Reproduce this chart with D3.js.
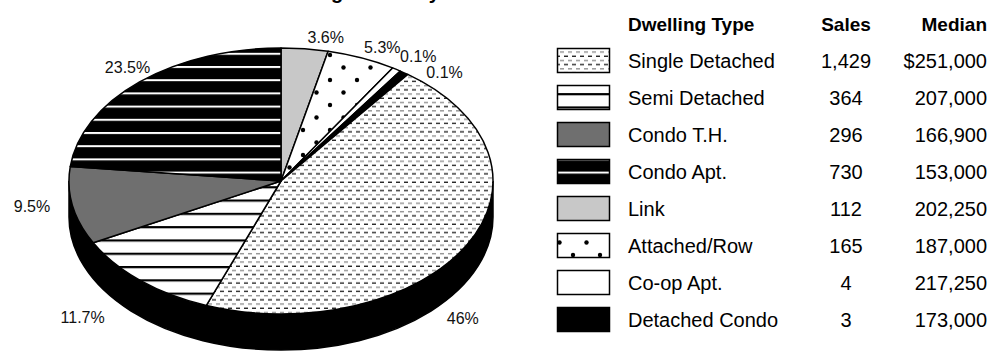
<!DOCTYPE html>
<html>
<head>
<meta charset="utf-8">
<script src="https://cdn.jsdelivr.net/npm/d3@7"></script>
<style>
  html, body { margin: 0; padding: 0; background: #fff; }
  svg { display: block; font-family: "Liberation Sans", Arial, sans-serif; }
</style>
</head>
<body>
<div id="chart"></div>
<script>
// data
const titleText = 'Dwelling Summary';
const headers = ['Dwelling Type', 'Sales', 'Median'];
const categories = ['Single Detached', 'Semi Detached', 'Condo T.H.', 'Condo Apt.',
  'Link', 'Attached/Row', 'Co-op Apt.', 'Detached Condo'];
const sales = [1429, 364, 296, 730, 112, 165, 4, 3];
const medians = ['$251,000', '207,000', '166,900', '153,000', '202,250', '187,000', '217,250', '173,000'];
const percentLabels = ['46%', '11.7%', '9.5%', '23.5%', '3.6%', '5.3%', '0.1%', '0.1%'];
// slices go clockwise from 12 o'clock starting with Link
const pieOrder = [4, 5, 6, 7, 0, 1, 2, 3];

const width = 992, height = 351;
const pie3d = { cx: 281, cy: 181, rx: 212, ry: 133, depth: 36 };
const fills = ['url(#pSingle)', 'url(#pSemi)', '#6f6f6f', 'url(#pApt)',
  '#c8c8c8', 'url(#pDots)', '#ffffff', '#000000'];
// fine placement of the percent labels (dx, dy from the computed spot)
const labelNudge = [[-20, 31], [-46, -10], [-23, -38], [0, -4], [19, 2], [14, 2], [12, -1], [30, 11]];

const svg = d3.select('#chart').append('svg')
  .attr('width', width)
  .attr('height', height);

// patterns
const defs = svg.append('defs');
const pSingle = defs.append('pattern').attr('id', 'pSingle')
  .attr('patternUnits', 'userSpaceOnUse').attr('width', 8).attr('height', 8.4);
pSingle.append('rect').attr('width', 8).attr('height', 8.4).attr('fill', '#fff');
pSingle.append('rect').attr('x', 0).attr('y', 1).attr('width', 4).attr('height', 1.3).attr('fill', '#8a8a8a');
pSingle.append('rect').attr('x', 4).attr('y', 5.2).attr('width', 4).attr('height', 1.3).attr('fill', '#1a1a1a');

const pSemi = defs.append('pattern').attr('id', 'pSemi')
  .attr('patternUnits', 'userSpaceOnUse').attr('width', 10).attr('height', 13.3);
pSemi.append('rect').attr('width', 10).attr('height', 13.3).attr('fill', '#fff');
pSemi.append('rect').attr('y', 0).attr('width', 10).attr('height', 2.2).attr('fill', '#000');

const pApt = defs.append('pattern').attr('id', 'pApt')
  .attr('patternUnits', 'userSpaceOnUse').attr('width', 10).attr('height', 13.2);
pApt.append('rect').attr('width', 10).attr('height', 13.2).attr('fill', '#000');
pApt.append('rect').attr('y', 0).attr('width', 10).attr('height', 2).attr('fill', '#fff');

const pDots = defs.append('pattern').attr('id', 'pDots')
  .attr('patternUnits', 'userSpaceOnUse').attr('width', 27).attr('height', 25);
pDots.append('rect').attr('width', 27).attr('height', 25).attr('fill', '#fff');
pDots.append('circle').attr('cx', 6).attr('cy', 5).attr('r', 2.2).attr('fill', '#000');
pDots.append('circle').attr('cx', 19.5).attr('cy', 17.5).attr('r', 2.2).attr('fill', '#000');

// title (mostly above the visible area)
svg.append('text')
  .attr('x', 261)
  .attr('y', -1.5)
  .attr('font-size', 20)
  .attr('font-weight', 'bold')
  .text(titleText);

// pie layout; tiny slices get a minimum visible size
const total = d3.sum(sales);
const minValue = total * 0.007;
const pieData = pieOrder.map(i => ({ index: i, value: sales[i] }));
const arcs = d3.pie()
  .sort(null)
  .value(d => Math.max(d.value, minValue))(pieData);

const pt = (a, dy = 0) => [pie3d.cx + pie3d.rx * Math.sin(a), pie3d.cy - pie3d.ry * Math.cos(a) + dy];

// side of the pie (front half)
const pieG = svg.append('g');
const right = pt(Math.PI / 2), left = pt(Math.PI * 1.5);
pieG.append('path')
  .attr('d', `M${right} A${pie3d.rx},${pie3d.ry} 0 0 1 ${left} L${left[0]},${left[1] + pie3d.depth} A${pie3d.rx},${pie3d.ry} 0 0 0 ${right[0]},${right[1] + pie3d.depth} Z`)
  .attr('fill', '#000')
  .attr('stroke', '#000')
  .attr('stroke-width', 1.5);

// top face slices
const slicePath = d => {
  const p0 = pt(d.startAngle), p1 = pt(d.endAngle);
  const large = d.endAngle - d.startAngle > Math.PI ? 1 : 0;
  return `M${pie3d.cx},${pie3d.cy} L${p0} A${pie3d.rx},${pie3d.ry} 0 ${large} 1 ${p1} Z`;
};
pieG.selectAll('path.slice')
  .data(arcs)
  .enter()
  .append('path')
  .attr('class', 'slice')
  .attr('d', slicePath)
  .attr('fill', d => fills[d.data.index])
  .attr('stroke', '#000')
  .attr('stroke-width', 1.5)
  .attr('stroke-linejoin', 'round');

// percent labels
svg.append('g').selectAll('text')
  .data(arcs)
  .enter()
  .append('text')
  .attr('x', d => {
    const m = (d.startAngle + d.endAngle) / 2;
    return pie3d.cx + (pie3d.rx + 18) * Math.sin(m) + labelNudge[d.data.index][0];
  })
  .attr('y', d => {
    const m = (d.startAngle + d.endAngle) / 2;
    const front = Math.cos(m) < 0 ? pie3d.depth : 0;
    return pie3d.cy - (pie3d.ry + 14) * Math.cos(m) + front + labelNudge[d.data.index][1];
  })
  .attr('text-anchor', 'middle')
  .attr('dy', '0.36em')
  .attr('font-size', 16)
  .attr('fill', '#111')
  .text(d => percentLabels[d.data.index]);

// legend table
const rowScale = d3.scalePoint()
  .domain(['header'].concat(categories))
  .range([23.5, 23.5 + 37 * categories.length]);
const fmt = d3.format(',');
const legend = svg.append('g');

const head = legend.append('g').attr('font-weight', 'bold').attr('font-size', 19);
head.append('text').attr('x', 628).attr('y', rowScale('header') + 7).text(headers[0]);
head.append('text').attr('x', 846).attr('y', rowScale('header') + 7).attr('text-anchor', 'middle').text(headers[1]);
head.append('text').attr('x', 987).attr('y', rowScale('header') + 7).attr('text-anchor', 'end').text(headers[2]);

const rows = legend.selectAll('g.row')
  .data(categories)
  .enter()
  .append('g')
  .attr('class', 'row');

rows.append('rect')
  .attr('x', 557.5)
  .attr('y', d => rowScale(d) - 12)
  .attr('width', 52)
  .attr('height', 24)
  .attr('fill', (d, i) => fills[i])
  .attr('stroke', '#000')
  .attr('stroke-width', 1.5);

rows.append('text')
  .attr('x', 628)
  .attr('y', d => rowScale(d) + 7)
  .attr('font-size', 20)
  .text(d => d);

rows.append('text')
  .attr('x', 846)
  .attr('y', d => rowScale(d) + 7)
  .attr('font-size', 20)
  .attr('text-anchor', 'middle')
  .text((d, i) => fmt(sales[i]));

rows.append('text')
  .attr('x', 987)
  .attr('y', d => rowScale(d) + 7)
  .attr('font-size', 20)
  .attr('text-anchor', 'end')
  .text((d, i) => medians[i]);
</script>
</body>
</html>
